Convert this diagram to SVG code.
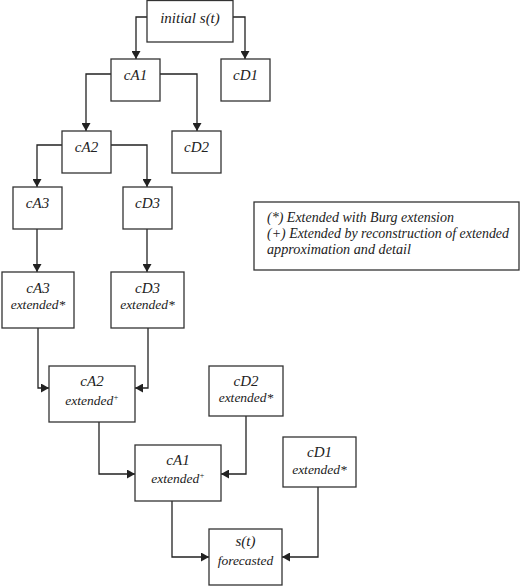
<svg xmlns="http://www.w3.org/2000/svg" width="520" height="586" viewBox="0 0 520 586">
<style>
  .box { fill: #ffffff; stroke: #333333; stroke-width: 1.3; }
  .lbl { font-family: 'Liberation Serif', 'Times New Roman', serif; font-style: italic; fill: #222222; text-anchor: middle; }
  .n { font-size: 15px; }
  .s { font-size: 13.5px; }
  .conn { fill: none; stroke: #222222; stroke-width: 1.3; marker-end: url(#arr); }
  .leg { font-family: 'Liberation Serif', 'Times New Roman', serif; font-style: italic; font-size: 14.5px; fill: #222222; }
</style>
<defs>
  <marker id="arr" markerUnits="userSpaceOnUse" markerWidth="9" markerHeight="9" refX="8" refY="4.5" orient="auto">
    <path d="M0,0 L8,4.5 L0,9 z" fill="#222222"/>
  </marker>
</defs>
<rect width="520" height="586" fill="#ffffff"/>

<g id="connectors">
  <path class="conn" d="M147,17 H136 V59"/>
  <path class="conn" d="M233,17 H245 V59"/>
  <path class="conn" d="M111,74 H86 V131"/>
  <path class="conn" d="M160,74 H197 V131"/>
  <path class="conn" d="M62,145 H37 V187"/>
  <path class="conn" d="M111,145 H147 V187"/>
  <path class="conn" d="M37,229 V272"/>
  <path class="conn" d="M147,229 V272"/>
  <path class="conn" d="M38,328 V388 H49"/>
  <path class="conn" d="M148,328 V388 H135"/>
  <path class="conn" d="M99,422 V474 H135"/>
  <path class="conn" d="M246,416 V474 H221"/>
  <path class="conn" d="M172,501 V557 H209"/>
  <path class="conn" d="M318,487 V557 H282"/>
</g>

<g id="initial">
  <rect class="box" x="147" y="0.5" width="86" height="41.5"/>
  <text class="lbl n" x="190" y="23">initial s(t)</text>
</g>
<g id="cA1">
  <rect class="box" x="111" y="59" width="49" height="42"/>
  <text class="lbl n" x="135.5" y="80">cA1</text>
</g>
<g id="cD1">
  <rect class="box" x="221" y="59" width="49" height="42"/>
  <text class="lbl n" x="245.5" y="80">cD1</text>
</g>
<g id="cA2">
  <rect class="box" x="62" y="131" width="49" height="42"/>
  <text class="lbl n" x="86.5" y="152">cA2</text>
</g>
<g id="cD2">
  <rect class="box" x="172" y="131" width="49" height="42"/>
  <text class="lbl n" x="196.5" y="152">cD2</text>
</g>
<g id="cA3">
  <rect class="box" x="13" y="187" width="49" height="42"/>
  <text class="lbl n" x="37.5" y="208">cA3</text>
</g>
<g id="cD3">
  <rect class="box" x="123" y="187" width="49" height="42"/>
  <text class="lbl n" x="147.5" y="208">cD3</text>
</g>
<g id="cA3ext">
  <rect class="box" x="2" y="272" width="72" height="56"/>
  <text class="lbl n" x="38" y="293">cA3</text>
  <text class="lbl s" x="38" y="309">extended*</text>
</g>
<g id="cD3ext">
  <rect class="box" x="111" y="272" width="73" height="56"/>
  <text class="lbl n" x="147.5" y="293">cD3</text>
  <text class="lbl s" x="147.5" y="309">extended*</text>
</g>
<g id="cA2ext">
  <rect class="box" x="49" y="366" width="86" height="56"/>
  <text class="lbl n" x="92" y="386">cA2</text>
  <text class="lbl s" x="92" y="405">extended<tspan font-size="8" dy="-5">+</tspan></text>
</g>
<g id="cD2ext">
  <rect class="box" x="209" y="366" width="74" height="50"/>
  <text class="lbl n" x="246" y="386">cD2</text>
  <text class="lbl s" x="246" y="402">extended*</text>
</g>
<g id="cA1ext">
  <rect class="box" x="135" y="445" width="86" height="56"/>
  <text class="lbl n" x="178" y="465">cA1</text>
  <text class="lbl s" x="178" y="483">extended<tspan font-size="8" dy="-5">+</tspan></text>
</g>
<g id="cD1ext">
  <rect class="box" x="283" y="437" width="73" height="50"/>
  <text class="lbl n" x="319.5" y="457">cD1</text>
  <text class="lbl s" x="319.5" y="474">extended*</text>
</g>
<g id="sforecast">
  <rect class="box" x="209" y="529" width="73" height="56"/>
  <text class="lbl n" x="245.5" y="546">s(t)</text>
  <text class="lbl s" x="245.5" y="565">forecasted</text>
</g>
<g id="legend">
  <rect class="box" x="254" y="202" width="265" height="68"/>
  <text class="leg" x="267" y="222" textLength="187" lengthAdjust="spacingAndGlyphs">(*) Extended with Burg extension</text>
  <text class="leg" x="267" y="238" textLength="242" lengthAdjust="spacingAndGlyphs">(+) Extended by reconstruction of extended</text>
  <text class="leg" x="267" y="254" textLength="144" lengthAdjust="spacingAndGlyphs">approximation and detail</text>
</g>
</svg>
